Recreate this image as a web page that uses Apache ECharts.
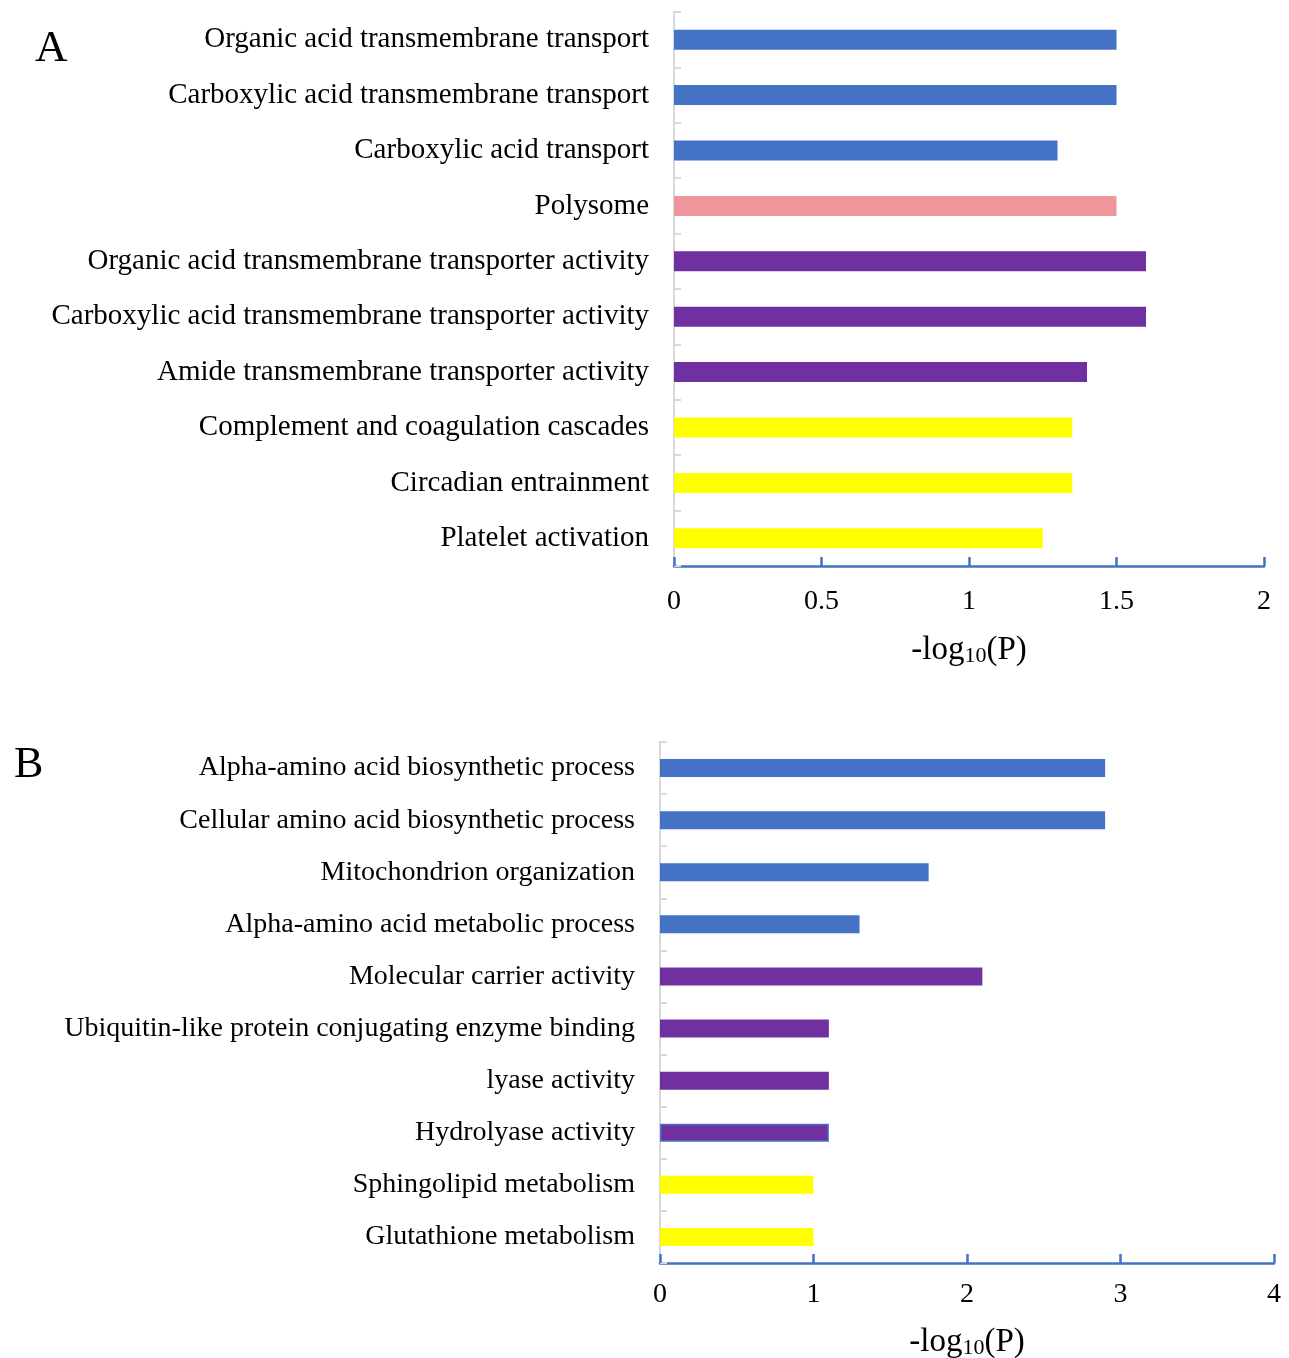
<!DOCTYPE html>
<html><head><meta charset="utf-8">
<script src="https://cdn.jsdelivr.net/npm/echarts@6/dist/echarts.min.js"></script>
<style>html,body{margin:0;padding:0;background:#fff}#c{width:1289px;height:1358px}</style>
</head><body><div id="c"></div>
<script>
const categoriesA = ['Organic acid transmembrane transport','Carboxylic acid transmembrane transport','Carboxylic acid transport','Polysome','Organic acid transmembrane transporter activity','Carboxylic acid transmembrane transporter activity','Amide transmembrane transporter activity','Complement and coagulation cascades','Circadian entrainment','Platelet activation'];
const valuesA = [1.5, 1.5, 1.3, 1.5, 1.6, 1.6, 1.4, 1.35, 1.35, 1.25];
const groupsA = ['BP','BP','BP','CC','MF','MF','MF','KEGG','KEGG','KEGG'];
const ticksA = {min: 0, max: 2, interval: 0.5};

const categoriesB = ['Alpha-amino acid biosynthetic process','Cellular amino acid biosynthetic process','Mitochondrion organization','Alpha-amino acid metabolic process','Molecular carrier activity','Ubiquitin-like protein conjugating enzyme binding','lyase activity','Hydrolyase activity','Sphingolipid metabolism','Glutathione metabolism'];
const valuesB = [2.9, 2.9, 1.75, 1.3, 2.1, 1.1, 1.1, 1.1, 1.0, 1.0];
const groupsB = ['BP','BP','BP','BP','MF','MF','MF','MF','KEGG','KEGG'];
const ticksB = {min: 0, max: 4, interval: 1};

const axisTitle = '-log{sub|10}(P)';
const panelLabels = ['A', 'B'];

const groupColor = {BP: '#4472C4', CC: '#F0959B', MF: '#7030A0', KEGG: '#FFFF00'};
const FONT = '"Liberation Serif", "Times New Roman", serif';

function mkData(vals, groups) {
  return vals.map((v, i) => {
    const it = {value: v, itemStyle: {color: groupColor[groups[i]]}};
    if (groups === groupsB && i === 7) { it.itemStyle.borderColor = '#4472C4'; it.itemStyle.borderWidth = 1.5; }
    return it;
  });
}

function yAxis(gi, cats, fs, margin) {
  return {
    type: 'category', gridIndex: gi, data: cats, inverse: true,
    axisLine: {show: true, lineStyle: {color: '#D9D9D9', width: 2}},
    axisTick: {show: true, inside: true, length: 7, lineStyle: {color: '#D9D9D9', width: 2}},
    axisLabel: {color: '#000', fontFamily: FONT, fontSize: fs, margin: margin},
    splitLine: {show: false}
  };
}
function xAxis(gi, t, gap, lm) {
  return {
    type: 'value', gridIndex: gi, min: t.min, max: t.max, interval: t.interval,
    axisLine: {show: true, lineStyle: {color: '#4472C4', width: 2.5}},
    axisTick: {show: true, inside: true, length: 9, lineStyle: {color: '#4472C4', width: 2.5}},
    axisLabel: {color: '#000', fontFamily: FONT, fontSize: 28, margin: lm},
    splitLine: {show: false},
    name: axisTitle, nameLocation: 'middle', nameGap: gap,
    nameTextStyle: {color: '#000', fontFamily: FONT, fontSize: 33,
      rich: {sub: {fontFamily: FONT, fontSize: 22, verticalAlign: 'bottom', padding: [12, 0, 0, 0], color: '#000'}}}
  };
}

const chart = echarts.init(document.getElementById('c'));
chart.setOption({
  animation: false,
  title: [
    {text: panelLabels[0], left: 30, top: 22, textStyle: {fontFamily: FONT, fontSize: 45, fontWeight: 'normal', color: '#000'}},
    {text: panelLabels[1], left: 9, top: 738, textStyle: {fontFamily: FONT, fontSize: 44, fontWeight: 'normal', color: '#000'}}
  ],
  grid: [
    {left: 674, top: 12, width: 590, height: 554, outerBoundsMode: 'none', containLabel: false},
    {left: 660, top: 742, width: 614, height: 521, outerBoundsMode: 'none', containLabel: false}
  ],
  xAxis: [xAxis(0, ticksA, 67, 22), xAxis(1, ticksB, 62, 18)],
  yAxis: [yAxis(0, categoriesA, 29, 25), yAxis(1, categoriesB, 28, 25)],
  series: [
    {type: 'bar', xAxisIndex: 0, yAxisIndex: 0, barWidth: 20, data: mkData(valuesA, groupsA)},
    {type: 'bar', xAxisIndex: 1, yAxisIndex: 1, barWidth: 18, data: mkData(valuesB, groupsB)}
  ]
});
</script></body></html>
